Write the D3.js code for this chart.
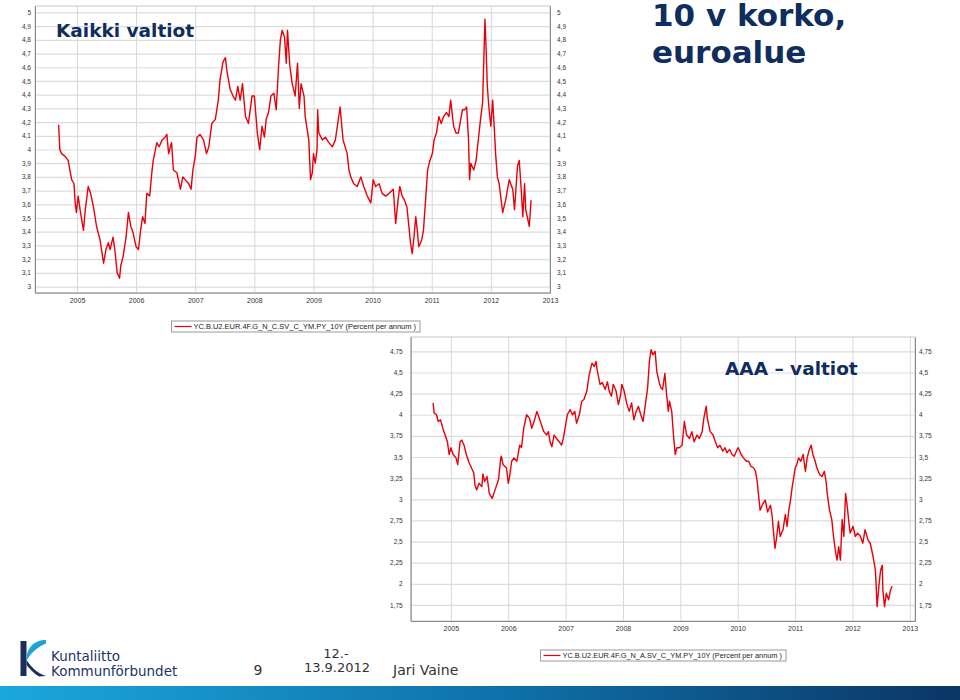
<!DOCTYPE html>
<html>
<head>
<meta charset="utf-8">
<script src="https://cdn.jsdelivr.net/npm/d3@7"></script>
<style>
    body { margin: 0; background: #fff; }
    svg { display: block; }
    .tick text { font-family: "Liberation Sans", Arial, sans-serif; fill: #333; }
</style>
</head>
<body>
<svg id="slide" width="960" height="700"></svg>
<script>
'use strict';
// 10y yield, all euro area governments: [decimal year, percent]
const kaikki = [
    [2004.69,4.18],[2004.71,4.00],[2004.74,3.97],[2004.80,3.95],[2004.85,3.92],[2004.88,3.85],[2004.91,3.78],[2004.95,3.75],
    [2004.97,3.61],[2004.99,3.54],[2005.02,3.66],[2005.06,3.54],[2005.11,3.41],[2005.14,3.56],[2005.19,3.73],[2005.23,3.68],
    [2005.28,3.58],[2005.33,3.44],[2005.39,3.34],[2005.45,3.17],[2005.49,3.27],[2005.53,3.32],[2005.56,3.27],[2005.61,3.36],
    [2005.64,3.27],[2005.68,3.10],[2005.72,3.06],[2005.74,3.15],[2005.78,3.22],[2005.83,3.36],[2005.87,3.54],[2005.91,3.44],
    [2005.95,3.39],[2006.00,3.29],[2006.04,3.27],[2006.07,3.39],[2006.11,3.51],[2006.15,3.46],[2006.18,3.68],[2006.23,3.66],
    [2006.27,3.85],[2006.29,3.92],[2006.35,4.05],[2006.39,4.02],[2006.44,4.07],[2006.49,4.09],[2006.52,4.11],[2006.55,3.97],
    [2006.58,4.02],[2006.60,4.05],[2006.63,3.85],[2006.69,3.83],[2006.75,3.71],[2006.79,3.80],[2006.83,3.78],[2006.89,3.75],
    [2006.93,3.71],[2006.96,3.85],[2007.00,3.95],[2007.03,4.09],[2007.08,4.11],[2007.14,4.07],[2007.19,3.97],[2007.23,4.02],
    [2007.28,4.19],[2007.34,4.22],[2007.39,4.36],[2007.42,4.51],[2007.47,4.64],[2007.51,4.67],[2007.54,4.56],[2007.59,4.44],
    [2007.64,4.39],[2007.68,4.36],[2007.72,4.46],[2007.76,4.36],[2007.80,4.48],[2007.85,4.24],[2007.90,4.19],[2007.96,4.39],
    [2008.00,4.39],[2008.05,4.12],[2008.09,4.00],[2008.13,4.17],[2008.17,4.09],[2008.20,4.22],[2008.24,4.27],[2008.28,4.39],
    [2008.33,4.41],[2008.37,4.29],[2008.41,4.61],[2008.44,4.80],[2008.47,4.87],[2008.51,4.82],[2008.54,4.63],[2008.56,4.87],
    [2008.60,4.61],[2008.64,4.48],[2008.69,4.39],[2008.73,4.63],[2008.76,4.30],[2008.79,4.48],[2008.84,4.39],[2008.86,4.24],
    [2008.92,4.07],[2008.95,3.78],[2008.98,3.83],[2009.00,3.97],[2009.03,3.90],[2009.06,4.00],[2009.07,4.29],[2009.09,4.12],
    [2009.15,4.07],[2009.20,4.09],[2009.26,4.05],[2009.32,4.02],[2009.37,4.07],[2009.45,4.31],[2009.50,4.07],[2009.57,3.97],
    [2009.60,3.85],[2009.63,3.80],[2009.68,3.75],[2009.74,3.73],[2009.80,3.80],[2009.85,3.73],[2009.91,3.66],[2009.97,3.61],
    [2010.01,3.78],[2010.05,3.73],[2010.11,3.75],[2010.16,3.68],[2010.22,3.66],[2010.28,3.68],[2010.35,3.71],[2010.39,3.46],
    [2010.43,3.63],[2010.46,3.73],[2010.50,3.66],[2010.54,3.63],[2010.58,3.58],[2010.62,3.41],[2010.64,3.32],[2010.67,3.24],
    [2010.70,3.36],[2010.73,3.51],[2010.76,3.39],[2010.78,3.29],[2010.83,3.34],[2010.86,3.41],[2010.90,3.66],[2010.93,3.85],
    [2010.97,3.92],[2011.01,3.97],[2011.04,4.07],[2011.08,4.12],[2011.12,4.24],[2011.16,4.19],[2011.20,4.24],[2011.25,4.27],
    [2011.29,4.24],[2011.32,4.36],[2011.37,4.17],[2011.41,4.12],[2011.45,4.12],[2011.49,4.22],[2011.52,4.29],[2011.56,4.29],
    [2011.59,4.31],[2011.62,4.09],[2011.64,3.78],[2011.66,3.90],[2011.71,3.85],[2011.75,3.92],[2011.77,4.00],[2011.80,4.12],
    [2011.83,4.24],[2011.86,4.34],[2011.88,4.65],[2011.90,4.95],[2011.92,4.73],[2011.94,4.46],[2011.97,4.29],[2012.00,4.17],
    [2012.03,4.36],[2012.06,4.14],[2012.08,3.97],[2012.11,3.80],[2012.14,3.75],[2012.20,3.54],[2012.25,3.63],[2012.31,3.78],
    [2012.37,3.71],[2012.40,3.56],[2012.45,3.88],[2012.48,3.92],[2012.51,3.73],[2012.54,3.51],[2012.57,3.75],[2012.59,3.56],
    [2012.65,3.44],[2012.68,3.63]
];
// 10y yield, AAA-rated governments
const aaa = [
    [2004.69,4.14],[2004.71,4.02],[2004.75,4.00],[2004.78,3.92],[2004.82,3.94],[2004.86,3.84],[2004.90,3.76],[2004.94,3.68],
    [2004.97,3.53],[2005.00,3.61],[2005.04,3.53],[2005.09,3.49],[2005.12,3.41],[2005.16,3.68],[2005.19,3.70],[2005.23,3.64],
    [2005.27,3.53],[2005.32,3.43],[2005.36,3.37],[2005.40,3.31],[2005.42,3.17],[2005.45,3.11],[2005.49,3.19],[2005.54,3.15],
    [2005.56,3.30],[2005.59,3.21],[2005.63,3.27],[2005.67,3.07],[2005.72,3.01],[2005.75,3.07],[2005.79,3.15],[2005.83,3.23],
    [2005.87,3.49],[2005.88,3.51],[2005.91,3.41],[2005.97,3.37],[2006.00,3.19],[2006.02,3.25],[2006.06,3.45],[2006.10,3.49],
    [2006.15,3.45],[2006.20,3.64],[2006.23,3.61],[2006.27,3.84],[2006.32,4.00],[2006.37,3.96],[2006.41,3.84],[2006.45,3.92],
    [2006.50,4.04],[2006.54,3.96],[2006.58,3.88],[2006.62,3.80],[2006.67,3.76],[2006.70,3.80],[2006.73,3.68],[2006.76,3.62],
    [2006.80,3.76],[2006.84,3.72],[2006.89,3.68],[2006.93,3.64],[2006.96,3.72],[2006.99,3.84],[2007.03,4.00],[2007.08,4.06],
    [2007.12,4.00],[2007.16,4.04],[2007.19,3.90],[2007.24,4.00],[2007.28,4.16],[2007.32,4.18],[2007.37,4.28],[2007.41,4.47],
    [2007.46,4.61],[2007.50,4.57],[2007.53,4.63],[2007.55,4.53],[2007.60,4.36],[2007.64,4.38],[2007.69,4.30],[2007.73,4.39],
    [2007.76,4.28],[2007.80,4.22],[2007.83,4.36],[2007.88,4.28],[2007.92,4.12],[2007.96,4.24],[2007.98,4.36],[2008.02,4.28],
    [2008.07,4.12],[2008.11,4.04],[2008.15,4.14],[2008.19,3.94],[2008.23,4.04],[2008.27,4.10],[2008.31,4.00],[2008.35,3.92],
    [2008.39,4.12],[2008.43,4.32],[2008.46,4.63],[2008.49,4.77],[2008.52,4.71],[2008.56,4.75],[2008.59,4.51],[2008.64,4.36],
    [2008.66,4.32],[2008.69,4.30],[2008.73,4.49],[2008.76,4.24],[2008.79,4.04],[2008.81,4.16],[2008.85,4.04],[2008.88,3.76],
    [2008.91,3.53],[2008.94,3.61],[2008.98,3.61],[2009.03,3.64],[2009.07,3.92],[2009.11,3.76],[2009.16,3.72],[2009.20,3.80],
    [2009.24,3.68],[2009.29,3.76],[2009.33,3.72],[2009.38,3.80],[2009.41,3.96],[2009.45,4.10],[2009.47,3.96],[2009.52,3.80],
    [2009.57,3.76],[2009.61,3.68],[2009.65,3.61],[2009.69,3.64],[2009.74,3.57],[2009.78,3.61],[2009.81,3.55],[2009.86,3.59],
    [2009.90,3.53],[2009.94,3.51],[2009.99,3.59],[2010.01,3.61],[2010.06,3.53],[2010.10,3.49],[2010.15,3.45],[2010.19,3.45],
    [2010.23,3.39],[2010.28,3.37],[2010.31,3.33],[2010.34,3.21],[2010.36,3.07],[2010.39,2.87],[2010.44,2.95],[2010.48,2.99],
    [2010.52,2.85],[2010.57,2.93],[2010.60,2.80],[2010.62,2.64],[2010.65,2.42],[2010.68,2.56],[2010.71,2.74],[2010.74,2.56],
    [2010.79,2.64],[2010.83,2.82],[2010.86,2.68],[2010.89,2.87],[2010.92,2.99],[2010.95,3.15],[2010.97,3.23],[2011.00,3.37],
    [2011.03,3.41],[2011.06,3.49],[2011.10,3.45],[2011.14,3.53],[2011.18,3.33],[2011.21,3.49],[2011.24,3.57],[2011.28,3.64],
    [2011.31,3.53],[2011.35,3.45],[2011.38,3.37],[2011.43,3.29],[2011.47,3.27],[2011.51,3.33],[2011.54,3.21],[2011.56,3.07],
    [2011.60,2.87],[2011.64,2.76],[2011.67,2.56],[2011.70,2.40],[2011.73,2.28],[2011.76,2.44],[2011.79,2.28],[2011.82,2.76],
    [2011.85,2.56],[2011.88,3.07],[2011.91,2.91],[2011.94,2.71],[2011.96,2.60],[2012.01,2.68],[2012.05,2.56],[2012.09,2.60],
    [2012.14,2.56],[2012.18,2.48],[2012.22,2.64],[2012.27,2.52],[2012.31,2.48],[2012.36,2.32],[2012.40,2.16],[2012.43,1.73],
    [2012.46,1.97],[2012.49,2.16],[2012.52,2.22],[2012.53,1.92],[2012.56,1.73],[2012.59,1.89],[2012.63,1.81],[2012.66,1.92],
    [2012.69,1.97]
];
const years = [2005, 2006, 2007, 2008, 2009, 2010, 2011, 2012, 2013];
const ticks1 = d3.range(30, 51).map(d => d / 10);   // 3 .. 5
const ticks2 = d3.range(7, 20).map(d => d / 4);     // 1,75 .. 4,75
const legend1 = "YC.B.U2.EUR.4F.G_N_C.SV_C_YM.PY_10Y (Percent per annum )";
const legend2 = "YC.B.U2.EUR.4F.G_N_A.SV_C_YM.PY_10Y (Percent per annum )";

const navy = "#0f2d5e";
const svg = d3.select("#slide");
const comma = d => String(+d.toFixed(2)).replace(".", ",");

function lineChart(data, {
    left, right, top, bottom,
    xDomain, yDomain, yTicks,
    padL, padR,
    legend, legendBox,
}) {
    const x = d3.scaleLinear().domain(xDomain).range([left, right]);
    const y = d3.scaleLinear().domain(yDomain).range([bottom, top]);
    const g = svg.append("g");
    const w = right - left, h = bottom - top;

    // grid
    g.append("g")
        .attr("transform", `translate(${left},0)`)
        .call(d3.axisLeft(y).tickValues(yTicks).tickSize(-w).tickFormat(""))
        .call(s => s.select(".domain").remove())
        .call(s => s.selectAll("line").attr("stroke", "#dcdcdc").attr("stroke-width", 1.2));
    g.append("g")
        .attr("transform", `translate(0,${bottom})`)
        .call(d3.axisBottom(x).tickValues(years).tickSize(-h).tickFormat(""))
        .call(s => s.select(".domain").remove())
        .call(s => s.selectAll("line").attr("stroke", "#d8d8d8"));

    // frame
    g.append("rect")
        .attr("x", left).attr("y", top)
        .attr("width", w).attr("height", h)
        .attr("fill", "none").attr("stroke", "#c8c8c8");

    // axes with labels
    g.append("g")
        .attr("transform", `translate(${left},0)`)
        .call(d3.axisLeft(y).tickValues(yTicks).tickSize(0).tickPadding(padL).tickFormat(comma))
        .call(s => s.select(".domain").attr("stroke", "#8a8a8a"))
        .call(s => s.selectAll("text").style("font-size", "6.5px"));
    g.append("g")
        .attr("transform", `translate(${right},0)`)
        .call(d3.axisRight(y).tickValues(yTicks).tickSize(0).tickPadding(padR).tickFormat(comma))
        .call(s => s.select(".domain").attr("stroke", "#8a8a8a"))
        .call(s => s.selectAll("text").style("font-size", "6.5px"));
    g.append("g")
        .attr("transform", `translate(0,${bottom})`)
        .call(d3.axisBottom(x).tickValues(years).tickSize(0).tickPadding(5).tickFormat(d3.format("d")))
        .call(s => s.select(".domain").attr("stroke", "#8a8a8a"))
        .call(s => s.selectAll("text").style("font-size", "7px"));

    g.append("path")
        .datum(data)
        .attr("fill", "none")
        .attr("stroke", "#e8000a")
        .attr("stroke-width", 1.4)
        .attr("stroke-linejoin", "round")
        .attr("d", d3.line().x(d => x(d[0])).y(d => y(d[1])));

    // legend
    const [lx0, ly0, lx1, ly1] = legendBox;
    const lg = svg.append("g");
    lg.append("rect")
        .attr("x", lx0).attr("y", ly0)
        .attr("width", lx1 - lx0).attr("height", ly1 - ly0)
        .attr("fill", "#fff").attr("stroke", "#9a9a9a");
    lg.append("line")
        .attr("x1", lx0 + 3).attr("x2", lx0 + 20)
        .attr("y1", (ly0 + ly1) / 2).attr("y2", (ly0 + ly1) / 2)
        .attr("stroke", "#e8000a").attr("stroke-width", 1.2);
    lg.append("text")
        .attr("x", lx0 + 22).attr("y", (ly0 + ly1) / 2 + 2.5)
        .attr("textLength", lx1 - lx0 - 26)
        .attr("lengthAdjust", "spacingAndGlyphs")
        .style("font-family", "'Liberation Sans', Arial, sans-serif")
        .style("font-size", "7px")
        .attr("fill", "#222")
        .text(legend);
}

lineChart(kaikki, {
    left: 35, right: 550, top: 6, bottom: 292.7,
    xDomain: [2004.29, 2013], yDomain: [2.955, 5.047], yTicks: ticks1,
    padL: 4, padR: 7,
    legend: legend1, legendBox: [171.5, 321, 420, 332],
});
lineChart(aaa, {
    left: 410.7, right: 915, top: 337, bottom: 621,
    xDomain: [2004.30, 2013.09], yDomain: [1.56, 4.92], yTicks: ticks2,
    padL: 8, padR: 4,
    legend: legend2, legendBox: [540.5, 650, 786, 661],
});

// titles
const title = (txt, x, y, size) => svg.append("text")
    .attr("x", x).attr("y", y)
    .style("font-family", "'DejaVu Sans', Verdana, sans-serif")
    .style("font-weight", "bold")
    .style("font-size", size + "px")
    .attr("fill", navy)
    .text(txt);
title("Kaikki valtiot", 56, 36.5, 18.5);
title("AAA – valtiot", 725, 375, 18.5);
title("10 v korko,", 652, 26, 31);
title("euroalue", 652, 63, 31);

// footer
const foot = svg.append("g");
const defs = svg.append("defs");
const grad = defs.append("linearGradient").attr("id", "bar");
grad.append("stop").attr("offset", "0%").attr("stop-color", "#1ba7dc");
grad.append("stop").attr("offset", "55%").attr("stop-color", "#0e6ea6");
grad.append("stop").attr("offset", "100%").attr("stop-color", "#0b3565");
foot.append("rect").attr("x", 0).attr("y", 686).attr("width", 960).attr("height", 14).attr("fill", "url(#bar)");

foot.append("rect").attr("x", 20.5).attr("y", 641).attr("width", 6).attr("height", 35).attr("fill", "#1c2f5c");
foot.append("path")
    .attr("d", "M46,640 C34,640 26,648 26.5,661 C30,654 37,647 46,643.5 Z")
    .attr("fill", "#1ea5d6");
foot.append("path")
    .attr("d", "M26.5,660 C31,667 37,673 46,676 L39,676.5 C33,673 29,668 26.5,665 Z")
    .attr("fill", "#1c2f5c");

const ftext = (txt, x, y, size, fill, anchor) => foot.append("text")
    .attr("x", x).attr("y", y)
    .attr("text-anchor", anchor || "start")
    .style("font-family", "'DejaVu Sans', Verdana, sans-serif")
    .style("font-size", size + "px")
    .attr("fill", fill)
    .text(txt);
ftext("Kuntaliitto", 51, 661, 13.5, "#1c3466");
ftext("Kommunförbundet", 51, 676, 13.5, "#1c3466");
ftext("9", 258, 675, 14, "#333", "middle");
ftext("12.-", 336, 657.5, 13, "#333", "middle");
ftext("13.9.2012", 337, 671.5, 13, "#333", "middle");
ftext("Jari Vaine", 393, 675, 14, "#333");
</script>
</body>
</html>
